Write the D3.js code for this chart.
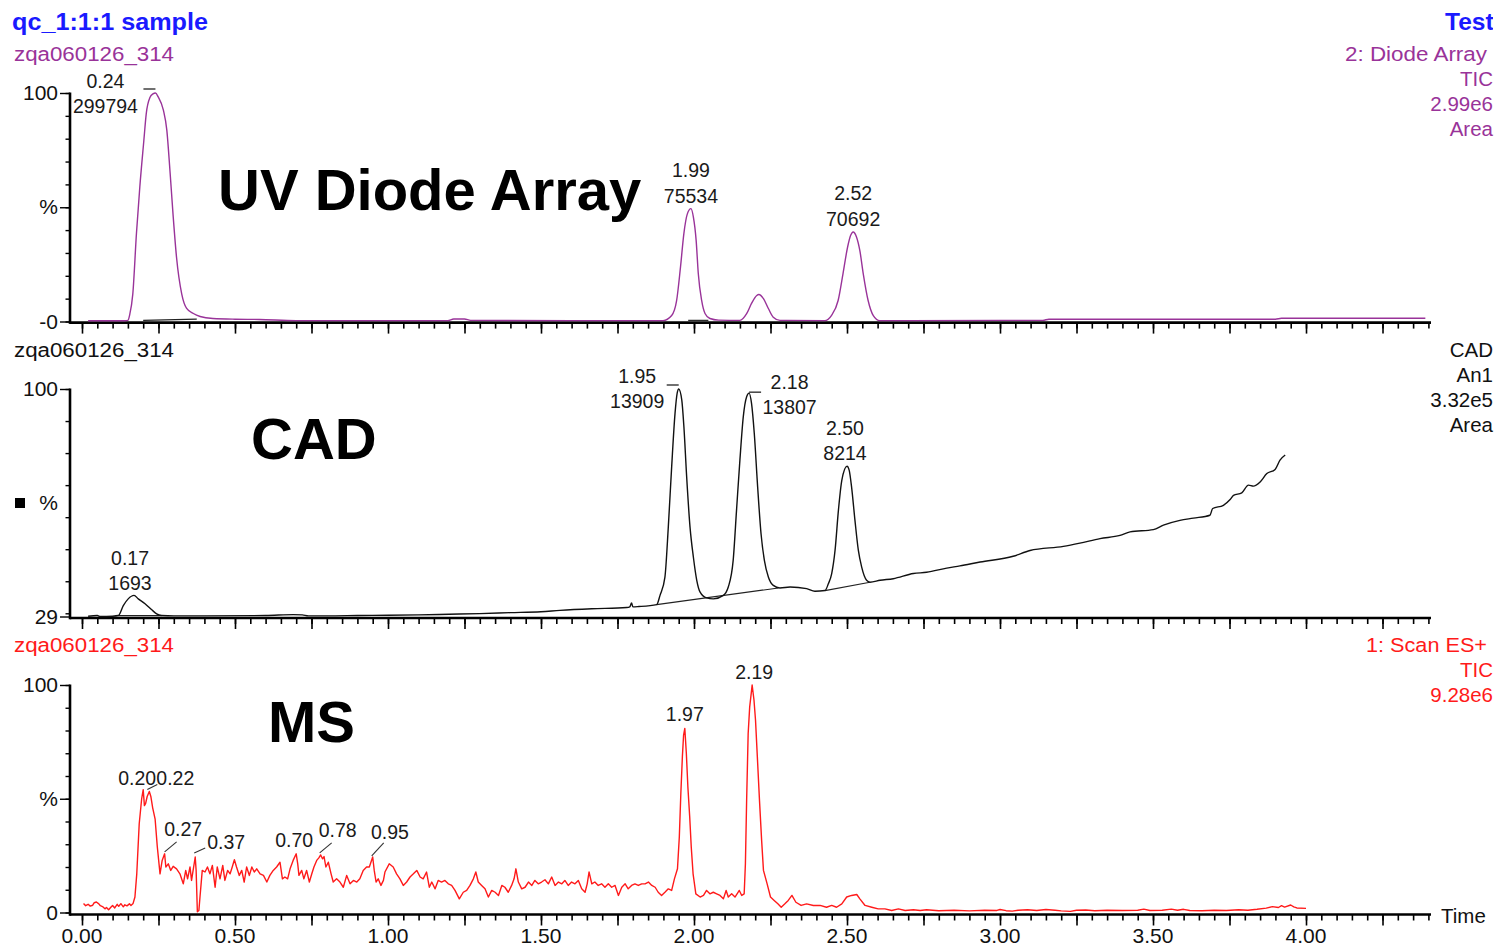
<!DOCTYPE html>
<html>
<head>
<meta charset="utf-8">
<script src="https://cdn.jsdelivr.net/npm/d3@7"></script>
<style>
  body { margin: 0; background: #fff; }
  svg { display: block; }
</style>
</head>
<body>
<svg id="chart" width="1499" height="948"></svg>
<script>
// ---------------- data ----------------
// Retention time (min) and relative intensity (%) for each detector trace.
const uvTrace = [
  [0.020,0.3],[0.060,0.3],[0.100,0.3],[0.140,0.3],[0.150,0.5],[0.156,3],[0.166,12],[0.178,38.6],
  [0.189,59],[0.202,79],[0.210,91],[0.222,98],[0.232,99.6],[0.240,100],[0.249,98.3],[0.266,92.5],
  [0.277,84],[0.288,65],[0.298,46],[0.309,28],[0.326,12],[0.342,5.7],[0.364,3.5],[0.386,2.2],
  [0.428,1.3],[0.500,1.0],[0.580,0.9],[0.700,0.4],[1.000,0.4],[1.195,0.4],[1.215,1.1],[1.250,1.1],
  [1.270,0.5],[1.600,0.4],[1.899,0.4],[1.927,2.6],[1.943,9],[1.956,24],[1.967,38.6],[1.978,47],
  [1.990,49.4],[1.998,45.7],[2.007,35.5],[2.014,21],[2.025,9.2],[2.036,3.5],[2.052,1.3],[2.080,0.6],
  [2.150,0.5],[2.172,3.4],[2.188,7.9],[2.205,11.4],[2.212,11.8],[2.227,10],[2.243,5.7],[2.259,1.9],
  [2.281,0.5],[2.427,0.4],[2.449,2.6],[2.471,9.2],[2.487,21],[2.502,32.6],[2.512,37.7],[2.520,39.2],
  [2.531,37],[2.542,31],[2.553,21],[2.569,9.2],[2.586,2.6],[2.607,0.4],[2.700,0.4],[3.000,0.5],
  [3.140,0.5],[3.160,1.0],[3.900,1.0],[3.920,1.4],[4.390,1.4]
];

const cadTrace = [
  [0.020,29.1],[0.050,29.3],[0.060,29.0],[0.100,29.1],[0.119,29.3],[0.135,32.4],[0.151,34.5],
  [0.170,35.6],[0.184,34.5],[0.206,33.0],[0.228,31.1],[0.244,29.8],[0.260,29.3],[0.300,29.2],
  [0.400,29.2],[0.600,29.3],[0.690,29.6],[0.720,29.5],[0.740,29.2],[0.800,29.2],[0.900,29.3],
  [1.000,29.4],[1.100,29.5],[1.200,29.7],[1.300,29.9],[1.400,30.2],[1.500,30.5],[1.562,30.9],
  [1.666,31.4],[1.780,31.8],[1.790,32.0],[1.796,33.2],[1.800,32.0],[1.820,32.1],[1.878,32.7],
  [1.889,35.6],[1.905,41.3],[1.916,56.9],[1.927,75.7],[1.938,92.4],[1.945,98.7],[1.950,100],
  [1.960,96.6],[1.967,88.2],[1.976,72.6],[1.987,56.9],[1.998,47.5],[2.009,40.3],[2.020,36.6],
  [2.041,34.8],[2.063,34.5],[2.096,35.6],[2.112,38.2],[2.128,46.5],[2.139,62.2],[2.150,77.8],
  [2.161,91.3],[2.172,97.6],[2.180,98.7],[2.188,95.5],[2.197,86.1],[2.208,69.4],[2.219,54.9],
  [2.230,46.5],[2.243,41.3],[2.259,38.7],[2.281,37.9],[2.314,38.2],[2.368,37.7],[2.395,36.9],
  [2.428,37.1],[2.439,39.2],[2.450,42.4],[2.461,49.7],[2.472,62.2],[2.483,71.5],[2.500,75.9],
  [2.507,74.7],[2.515,69.4],[2.526,59.0],[2.537,49.7],[2.548,44.4],[2.564,40.3],[2.575,39.7],
  [2.608,40.3],[2.651,40.8],[2.717,42.4],[2.760,42.8],[2.826,44.1],[2.869,44.8],[2.935,46.0],
  [3.043,47.8],[3.098,49.6],[3.207,50.9],[3.261,51.9],[3.327,53.3],[3.392,54.3],[3.425,55.4],
  [3.501,56.1],[3.534,57.5],[3.588,59.0],[3.632,59.7],[3.686,60.6],[3.695,62.7],[3.730,63.7],
  [3.752,65.5],[3.763,66.8],[3.790,67.6],[3.812,70.0],[3.828,69.7],[3.850,71.0],[3.872,73.6],
  [3.899,74.9],[3.915,77.8],[3.932,79.4]
];

const msTrace = [
  [0.005,4.0],[0.012,3.0],[0.020,3.6],[0.027,2.8],[0.035,3.2],[0.040,4.3],[0.047,4.6],[0.055,3.8],
  [0.060,3.0],[0.067,2.6],[0.075,1.6],[0.080,2.2],[0.087,1.2],[0.095,2.4],[0.100,3.1],[0.107,2.0],
  [0.115,3.6],[0.120,2.7],[0.127,3.9],[0.135,2.5],[0.140,3.4],[0.147,2.9],[0.155,3.8],[0.160,3.1],
  [0.167,4.0],[0.173,6.8],[0.179,17],[0.187,39],[0.195,50],[0.200,54],[0.204,47],[0.208,48],
  [0.213,51],[0.220,53.2],[0.225,51],[0.231,46],[0.239,41],[0.246,29],[0.255,17],[0.262,22.9],
  [0.270,25.8],[0.274,20],[0.282,21.4],[0.290,18.5],[0.298,20.3],[0.309,19.2],[0.320,17],
  [0.331,12.6],[0.339,18.5],[0.345,14.8],[0.353,20],[0.358,14.1],[0.370,24.4],[0.373,18.5],
  [0.377,0.3],[0.382,0.9],[0.386,7.5],[0.393,18.5],[0.402,17.8],[0.410,20],[0.418,17],[0.426,20.7],
  [0.435,11.1],[0.442,20],[0.451,14.8],[0.460,20.7],[0.467,14.1],[0.476,18.5],[0.484,17],[0.491,20],
  [0.498,23.2],[0.505,20],[0.514,16.3],[0.522,18.5],[0.530,13.4],[0.538,20],[0.547,16.3],[0.555,20],
  [0.563,17.8],[0.571,19.2],[0.582,17],[0.593,16.3],[0.604,13.4],[0.614,16.3],[0.625,18.5],
  [0.636,20],[0.647,22.1],[0.655,14.8],[0.663,15.6],[0.672,14.8],[0.680,19.2],[0.690,22.9],
  [0.700,25.8],[0.705,21.4],[0.709,16.3],[0.718,18.5],[0.725,14.8],[0.734,18.5],[0.743,13.4],
  [0.751,17],[0.758,20],[0.767,22.9],[0.774,24.0],[0.780,25.3],[0.786,23.6],[0.791,24.6],
  [0.797,20],[0.805,22.1],[0.814,17],[0.821,13.4],[0.832,14.8],[0.843,13.4],[0.854,11.1],
  [0.865,16.3],[0.876,12.6],[0.887,14.1],[0.898,13.4],[0.908,14.8],[0.919,18.5],[0.930,20],
  [0.939,20],[0.950,24.4],[0.955,18.5],[0.961,13.4],[0.968,14.8],[0.977,11.9],[0.985,14.1],
  [0.990,17.8],[1.004,21.4],[1.017,20],[1.028,17],[1.039,14.8],[1.050,11.9],[1.061,13.4],
  [1.072,15.6],[1.083,17],[1.094,18.5],[1.105,15.6],[1.115,14.8],[1.126,17.8],[1.135,11.1],
  [1.143,13.4],[1.154,10.4],[1.164,14.1],[1.175,13.4],[1.186,14.1],[1.197,12.6],[1.208,11.9],
  [1.219,9.7],[1.233,6.0],[1.246,8.9],[1.257,9.7],[1.268,11.9],[1.279,14.8],[1.287,17.8],
  [1.295,13.4],[1.306,11.9],[1.317,10.4],[1.328,6.8],[1.339,9.7],[1.350,8.9],[1.361,7.5],
  [1.372,11.9],[1.382,11.1],[1.393,8.9],[1.404,11.9],[1.412,14.8],[1.418,19.2],[1.426,13.4],
  [1.437,10.4],[1.448,11.1],[1.459,13.4],[1.470,11.9],[1.480,14.1],[1.491,12.6],[1.502,13.4],
  [1.513,14.4],[1.524,12.6],[1.535,15.6],[1.546,11.9],[1.557,13.4],[1.568,12.6],[1.578,14.1],
  [1.589,11.9],[1.600,13.4],[1.611,12.6],[1.622,14.1],[1.633,10.4],[1.644,8.9],[1.651,12.6],
  [1.657,17.8],[1.666,12.6],[1.676,13.4],[1.687,11.9],[1.698,12.6],[1.709,11.1],[1.720,12.6],
  [1.731,11.1],[1.742,11.9],[1.753,7.5],[1.764,11.1],[1.775,12.6],[1.785,10.4],[1.796,11.9],
  [1.807,12.6],[1.818,11.9],[1.829,12.6],[1.840,12.6],[1.851,13.4],[1.862,11.9],[1.873,11.1],
  [1.883,8.9],[1.894,7.5],[1.905,8.9],[1.916,10.4],[1.927,9.7],[1.936,14.8],[1.946,19.2],
  [1.952,33.2],[1.957,52.3],[1.962,68.4],[1.966,78],[1.970,80.9],[1.975,69.9],[1.980,55.2],
  [1.986,42],[1.991,28.8],[1.997,17],[2.006,8.2],[2.020,6.8],[2.031,7.5],[2.041,9.7],[2.052,8.2],
  [2.063,8.9],[2.074,8.2],[2.085,7.5],[2.096,6.0],[2.105,9.7],[2.112,6.8],[2.123,8.2],[2.134,6.8],
  [2.148,9.7],[2.156,7.5],[2.164,8.2],[2.168,21.4],[2.172,49.3],[2.177,78.7],[2.182,90.4],
  [2.187,96.3],[2.190,100],[2.196,93.4],[2.201,84.6],[2.207,68.4],[2.214,49.3],[2.221,31.7],
  [2.227,18.5],[2.239,12.6],[2.250,6.8],[2.262,5.3],[2.274,3.8],[2.285,2.3],[2.297,3.8],
  [2.308,5.3],[2.320,7.5],[2.333,4.5],[2.350,3.1],[2.368,3.8],[2.390,3.1],[2.412,3.1],[2.433,2.3],
  [2.450,3.1],[2.466,2.3],[2.483,3.8],[2.499,6.8],[2.515,7.5],[2.532,7.9],[2.542,6.0],[2.559,3.1],
  [2.581,2.3],[2.602,1.6],[2.624,1.6],[2.646,0.9],[2.668,1.6],[2.690,0.9],[2.717,1.2],[2.739,0.9],
  [2.760,1.2],[2.800,0.8],[2.850,1.0],[2.900,0.7],[2.950,1.0],[2.990,0.9],[3.000,1.3],[3.020,0.8],
  [3.040,0.6],[3.060,1.0],[3.090,1.2],[3.120,0.9],[3.150,1.3],[3.180,1.0],[3.200,0.7],[3.230,0.5],
  [3.250,1.0],[3.280,1.1],[3.310,0.8],[3.350,1.0],[3.400,0.9],[3.450,1.0],[3.470,1.5],[3.490,0.9],
  [3.530,1.0],[3.560,1.5],[3.580,1.0],[3.600,1.4],[3.620,0.9],[3.660,0.8],[3.700,1.0],[3.740,0.9],
  [3.780,1.2],[3.810,1.0],[3.840,1.4],[3.870,1.9],[3.890,2.6],[3.910,2.2],[3.920,3.0],[3.930,2.4],
  [3.950,3.3],[3.960,2.5],[3.970,2.0],[4.000,1.8]
];

// Integrated peak baselines drawn under the traces.
const uvIntegrationBaselines = [ [[0.200,0.5],[0.375,1.0]], [[1.981,0.5],[2.047,0.5]] ];
const cadIntegrationBaselines = [ [[0.119,29.3],[0.260,29.3]], [[1.878,32.7],[2.276,37.9]], [[2.428,37.1],[2.575,39.7]] ];

// Detected peaks: retention times and integrated areas.
const uvPeakTimes = [0.24, 1.99, 2.52];
const uvPeakAreas = ["299794", "75534", "70692"];
const cadPeakTimes = [0.17, 1.95, 2.18, 2.50];
const cadPeakAreas = ["1693", "13909", "13807", "8214"];
const msPeakTimes = [0.20, 0.22, 0.27, 0.37, 0.70, 0.78, 0.95, 1.97, 2.19];

// Axis labels.
const timeTickLabels = ["0.00", "0.50", "1.00", "1.50", "2.00", "2.50", "3.00", "3.50", "4.00"];
const uvYLabels = [[100, "100"], [50, "%"], [0, "-0"]];
const cadYLabels = [[100, "100"], [29, "29"]];
const msYLabels = [[100, "100"], [50, "%"], [0, "0"]];

// Header / trace descriptions.
const sampleTitle = "qc_1:1:1 sample";
const sampleName = "Test";
const fileName = "zqa060126_314";
const uvInfo = ["2: Diode Array", "TIC", "2.99e6", "Area"];
const cadInfo = ["CAD", "An1", "3.32e5", "Area"];
const msInfo = ["1: Scan ES+", "TIC", "9.28e6"];
const detectorNames = ["UV Diode Array", "CAD", "MS"];

// ---------------- drawing ----------------
const FONT = '"Liberation Sans", Arial, Helvetica, sans-serif';
const PURPLE = "#993399", RED = "#ff1a1a", BLUE = "#1a1aff", INK = "#111";
const svg = d3.select("#chart");
svg.append("rect").attr("width", 1499).attr("height", 948).attr("fill", "#fff");

const X_LEFT = 70, X_RIGHT = 1430;
const x = d3.scaleLinear().domain([-0.0392, 4.4052]).range([X_LEFT, X_RIGHT]);

const minorTimes = d3.range(0, 89).map(i => i * 0.05);
const majorTimes = d3.range(0, 18).map(i => i * 0.25);

function text(sel, x0, y0, str, opts = {}) {
  const t = sel.append("text")
    .attr("x", x0).attr("y", y0)
    .attr("font-family", opts.family || FONT)
    .attr("font-size", opts.size || 20)
    .attr("font-weight", opts.weight || "normal")
    .attr("fill", opts.color || INK)
    .attr("text-anchor", opts.anchor || "start")
    .text(str);
  if (opts.length) t.attr("textLength", opts.length).attr("lengthAdjust", "spacingAndGlyphs");
  return t;
}

function cleanAxis(g, w) {
  g.select(".domain").remove();
  g.selectAll(".tick line").attr("stroke", "#000").attr("stroke-width", w);
  g.attr("font-family", FONT);
}

function drawPanel(cfg) {
  const y = d3.scaleLinear().domain(cfg.domain).range([cfg.yBottom, cfg.yTop]);
  const g = svg.append("g");

  // time axis
  const minor = g.append("g").attr("transform", `translate(0,${cfg.axisY})`)
    .call(d3.axisBottom(x).tickValues(minorTimes).tickSize(6).tickFormat(""));
  cleanAxis(minor, 1.6);
  const major = g.append("g").attr("transform", `translate(0,${cfg.axisY})`)
    .call(d3.axisBottom(x).tickValues(majorTimes).tickSize(11).tickFormat(""));
  cleanAxis(major, 1.6);
  g.append("line").attr("x1", X_LEFT).attr("x2", X_RIGHT + 1)
    .attr("y1", cfg.axisY).attr("y2", cfg.axisY)
    .attr("stroke", "#000").attr("stroke-width", 2.6);

  // intensity axis
  const yMinor = g.append("g").attr("transform", `translate(${X_LEFT},0)`)
    .call(d3.axisLeft(y).tickValues(cfg.yTicks).tickSize(4.5).tickFormat(""));
  cleanAxis(yMinor, 1.4);
  const yMajor = g.append("g").attr("transform", `translate(${X_LEFT},0)`)
    .call(d3.axisLeft(y).tickValues(cfg.yLabels.map(d => d[0])).tickSize(10).tickPadding(2)
      .tickFormat((d, i) => cfg.yLabels[i][1]));
  cleanAxis(yMajor, 1.4);
  yMajor.selectAll(".tick text").attr("font-size", 21).attr("fill", INK)
    .attr("font-family", FONT);
  g.append("line").attr("x1", X_LEFT).attr("x2", X_LEFT)
    .attr("y1", cfg.yTop - 0.5).attr("y2", cfg.axisY + 1.3)
    .attr("stroke", "#000").attr("stroke-width", 2.6);

  // integration baselines
  const line = d3.line().x(d => x(d[0])).y(d => y(d[1]));
  (cfg.baselines || []).forEach(seg => {
    g.append("path").attr("d", line(seg)).attr("fill", "none")
      .attr("stroke", "#222").attr("stroke-width", 1.2);
  });

  // trace
  const traceLine = d3.line().x(d => x(d[0])).y(d => y(d[1])).curve(cfg.curve || d3.curveLinear);
  g.append("path").attr("d", traceLine(cfg.trace)).attr("fill", "none")
    .attr("stroke", cfg.color).attr("stroke-width", 1.4).attr("stroke-linejoin", "round");

  // peak annotations, anchored on the trace apex at each retention time
  const fmt = d3.format(".2f");
  cfg.peaks.forEach((t, i) => {
    const apex = d3.least(cfg.trace, d => Math.abs(d[0] - t));
    const px = x(apex[0]), py = y(apex[1]);
    const lay = cfg.layout[i];
    const lines = cfg.areas ? [fmt(t), cfg.areas[i]] : [fmt(t)];
    lines.forEach((s, k) => {
      text(g, px + lay.dx, py + lay.dy - (lines.length - 1 - k) * 25.5, s,
        { size: 19.5, anchor: "middle", color: "#1a1a1a" });
    });
    if (lay.mark) {
      g.append("line").attr("x1", px + lay.mark[0]).attr("x2", px + lay.mark[1])
        .attr("y1", py + lay.mark[2]).attr("y2", py + lay.mark[2])
        .attr("stroke", "#222").attr("stroke-width", 1.3);
    }
    if (lay.lead) {
      g.append("line").attr("x1", px + lay.lead[0][0]).attr("y1", py + lay.lead[0][1])
        .attr("x2", px + lay.lead[1][0]).attr("y2", py + lay.lead[1][1])
        .attr("stroke", "#333").attr("stroke-width", 1.1);
    }
  });
  return y;
}

// label placement around each apex (dx: centre offset, dy: last line baseline offset)
const uvLayout = [
  { dx: -50, dy: 20, mark: [-12, 0, -4] },
  { dx: 0, dy: -6 },
  { dx: 0, dy: -6 }
];
const cadLayout = [
  { dx: -4, dy: -5 },
  { dx: -41.5, dy: 19, mark: [-12, 0, -4] },
  { dx: 40.5, dy: 21, mark: [0, 12, -1] },
  { dx: -2, dy: -6 }
];
const msLayout = [
  { dx: -6, dy: -5 },
  { dx: 26, dy: -6.5, lead: [[-2, -2], [8, -7]] },
  { dx: 18.5, dy: -18, lead: [[0, -2], [12, -12]] },
  { dx: 31, dy: -8, lead: [[-1, -4], [10, -9]] },
  { dx: -2, dy: -7 },
  { dx: 17, dy: -18, lead: [[-1, -2], [11, -12]] },
  { dx: 17.3, dy: -18, lead: [[-1, -1], [11, -14]] },
  { dx: 0, dy: -7 },
  { dx: 2, dy: -6 }
];

const pctTicks = d3.range(0, 11).map(i => i * 10);

drawPanel({
  domain: [0, 100], yTop: 93, yBottom: 321.5, axisY: 322.6,
  yTicks: pctTicks, yLabels: uvYLabels,
  trace: uvTrace, color: PURPLE, curve: d3.curveMonotoneX,
  baselines: uvIntegrationBaselines,
  peaks: uvPeakTimes, areas: uvPeakAreas, layout: uvLayout
});

drawPanel({
  domain: [29, 100], yTop: 389, yBottom: 616.5, axisY: 618,
  yTicks: d3.range(3, 11).map(i => i * 10), yLabels: cadYLabels,
  trace: cadTrace, color: INK, curve: d3.curveMonotoneX,
  baselines: cadIntegrationBaselines,
  peaks: cadPeakTimes, areas: cadPeakAreas, layout: cadLayout
});

drawPanel({
  domain: [0, 100], yTop: 685, yBottom: 912.5, axisY: 914.5,
  yTicks: pctTicks, yLabels: msYLabels,
  trace: msTrace, color: RED,
  peaks: msPeakTimes, layout: msLayout
});

// CAD % marker
svg.append("rect").attr("x", 15).attr("y", 498).attr("width", 10).attr("height", 10).attr("fill", "#000");
text(svg, 58, 510, "%", { size: 21, anchor: "end" });

// time labels on the bottom axis
timeTickLabels.forEach(s => text(svg, x(+s), 943, s, { size: 21, anchor: "middle" }));
text(svg, 1441, 923, "Time", { size: 20.5 });

// header
text(svg, 12, 30, sampleTitle, { size: 24.5, weight: "bold", color: BLUE, length: 196 });
svg.append("clipPath").attr("id", "edge").append("rect").attr("x", 1300).attr("y", 0).attr("width", 193).attr("height", 60);
text(svg, 1445, 30, sampleName, { size: 24.5, weight: "bold", color: BLUE }).attr("clip-path", "url(#edge)");

// trace descriptions
text(svg, 14, 61, fileName, { size: 20, color: PURPLE, length: 160 });
text(svg, 14, 357, fileName, { size: 20, color: INK, length: 160 });
text(svg, 14, 652, fileName, { size: 20, color: RED, length: 160 });

function infoBlock(lines, y0, color, firstLen) {
  lines.forEach((s, i) => {
    const t = text(svg, i === 0 && firstLen ? 1487 : 1493, y0 + i * 25, s,
      { size: 20.5, color, anchor: "end" });
    if (i === 0 && firstLen) t.attr("textLength", firstLen).attr("lengthAdjust", "spacingAndGlyphs");
  });
}
infoBlock(uvInfo, 61, PURPLE, 142);
infoBlock(cadInfo, 357, INK);
infoBlock(msInfo, 652, RED, 121);

// detector names
text(svg, 218, 210, detectorNames[0], { size: 58, weight: "bold", color: "#000" });
text(svg, 251, 459, detectorNames[1], { size: 58, weight: "bold", color: "#000" });
text(svg, 268, 742, detectorNames[2], { size: 58, weight: "bold", color: "#000" });
</script>
</body>
</html>
